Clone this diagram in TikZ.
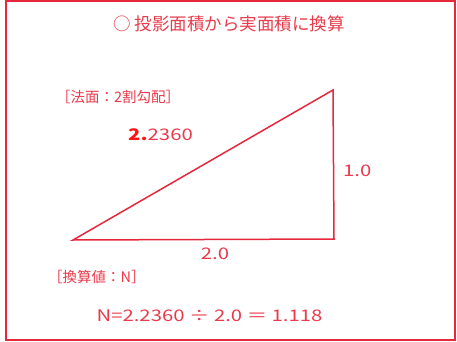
\documentclass[tikz,border=0pt]{standalone}
\usepackage{fontspec}
\setmainfont{Noto Sans CJK JP}
\definecolor{lred}{RGB}{230,40,60}
\definecolor{tred}{RGB}{232,58,75}
\definecolor{bred}{RGB}{255,20,20}
\newcommand{\wid}[1]{\scalebox{1.27}[1]{#1}}
\begin{document}
\begin{tikzpicture}[x=1pt,y=-1pt,
  lbl/.style={inner sep=0pt,text=tred,font=\fontsize{16}{16}\selectfont},
  jlbl/.style={inner sep=0pt,text=tred,font=\fontsize{14.5}{14.5}\selectfont}]
\useasboundingbox (0,0) rectangle (457,342);
\draw[lred,line width=2pt] (5.5,1.5) rectangle (455,339.5);
\coordinate (A) at (73,240);
\coordinate (B) at (333,90);
\coordinate (C) at (334,239);
\draw[lred,line width=1.5pt,line join=miter] (A) -- (B) -- (C) -- cycle;
\node[jlbl,font=\fontsize{17.5}{17.5}\selectfont] (title) at (229,24) {○ 投影面積から実面積に換算};
\node[jlbl,anchor=west] (houmen) at (56,97) {［法面：2割勾配］};
\node[lbl,anchor=west] (hyp) at (128,135) {\wid{\textcolor{bred}{\textbf{2.}}2360}};
\node[lbl,anchor=west] (v) at (343,171) {\wid{1.0}};
\node[lbl] (h) at (215,254) {\wid{2.0}};
\node[jlbl,anchor=west] (kanzan) at (48,277) {［換算値：N］};
\node[lbl] (formula) at (209.5,316) {\wid{N=2.2360 ÷ 2.0 ＝ 1.118}};
\end{tikzpicture}
\end{document}
